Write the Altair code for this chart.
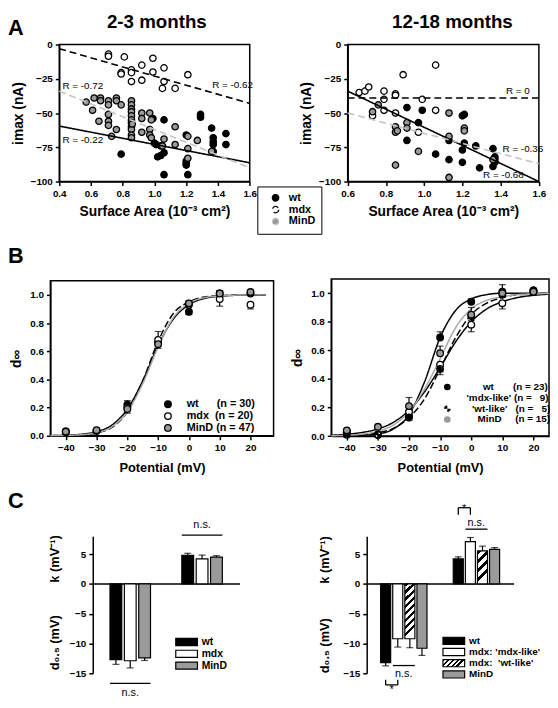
import math
import altair as alt
import pandas as pd

FONT = "Liberation Sans"
NB = "\u00a0"
ZW = "\u200b"

# ============================ DATA ============================
geno3 = ["wt", "mdx", "MinD"]
fill3 = ["black", "white", "#9a9a9a"]

# ---- Panel A left: 2-3 months, imax (nA) vs surface area ----
a1_wt_x = [0.79, 0.99, 1.06, 1.00, 1.01, 1.04, 1.04, 1.02, 1.06, 1.06, 1.21, 1.20, 1.20, 1.20, 1.20,
           1.29, 1.29, 1.36, 1.37, 1.37, 1.37, 1.37, 1.45, 1.45]
a1_wt_y = [-80, -54, -55, -72, -73, -74, -81, -82, -79, -95, -95, -85, -87, -88, -66,
           -51, -53, -61, -68, -71, -73, -78, -65, -73]
a1_mdx_x = [0.71, 0.71, 0.81, 0.79, 0.79, 0.855, 0.855, 0.855, 0.92, 0.92, 0.99, 0.99, 1.06, 1.06, 1.05, 1.13, 1.21]
a1_mdx_y = [-7, -8.5, -9, -20.5, -21.5, -18.5, -20.5, -27, -15, -26, -10, -20, -17, -27, -32, -32, -22]
a1_mind_x = [0.57, 0.62, 0.61, 0.66, 0.66, 0.65, 0.71, 0.71, 0.71, 0.71, 0.71, 0.76, 0.76, 0.79, 0.76, 0.73,
             0.855, 0.855, 0.855, 0.855, 0.855, 0.855, 0.855, 0.855, 0.855, 0.855, 0.855, 0.86,
             0.92, 0.92, 0.92, 0.97, 0.98, 0.97, 0.97, 0.98, 1.06, 1.05, 1.13, 1.13, 1.21, 1.21, 1.21, 1.27, 1.36]
a1_mind_y = [-42, -39, -48, -39, -41, -56, -41, -44, -51, -56, -59, -39, -41, -44, -62, -67,
             -41, -44, -47, -49, -52, -55, -57, -60, -62, -66, -68, -58,
             -50, -54, -64, -50, -55, -62, -66, -68, -69, -74, -60, -73, -67, -76, -83, -70, -78]
a1_fit_x = [0.4, 1.6]
a1_fit_wt = [-59.5, -86.3]
a1_fit_mdx = [-3, -43]
a1_fit_mind = [-34, -90]
a1_r_text = ["R = -0.72", "R = -0.62", "R = -0.22"]
a1_r_x = [0.42, 1.364, 0.42]
a1_r_y = [-30, -29.5, -69.5]

# ---- Panel A right: 12-18 months ----
a2_wt_x = [0.91, 0.99, 0.97, 0.91, 1.06, 1.13, 1.13, 1.20, 1.21, 1.20, 1.20, 1.21, 1.27, 1.29, 1.36, 1.37, 1.37, 1.37, 1.36]
a2_wt_y = [-46, -48, -57, -70, -80, -84, -70, -52, -51, -77, -86, -72, -74, -90, -76, -82, -84, -86, -89]
a2_mdx_x = [0.66, 0.69, 0.71, 0.79, 0.79, 0.79, 0.85, 0.85, 0.85, 0.73, 0.89, 0.99, 0.97, 1.06, 1.06]
a2_mdx_y = [-35, -34, -31, -34, -40, -48, -36, -37, -50, -52, -22, -40, -64, -15, -48]
a2_mind_x = [0.76, 0.73, 0.85, 0.85, 0.86, 0.91, 0.91, 0.97, 0.85, 1.13, 1.13, 1.13, 1.21, 1.21, 1.36]
a2_mind_y = [-44, -49, -60, -64, -63, -57, -61, -78, -88, -50, -67, -97, -61, -63, -84]
a2_fit_x = [0.6, 1.6]
a2_fit_wt = [-34, -100]
a2_fit_mdx = [-39, -39]
a2_fit_mind = [-50, -87]
a2_r_text = ["R = 0", "R = -0.36", "R = -0.68"]
a2_r_x = [1.428, 1.41, 1.308]
a2_r_y = [-34, -76, -95]

# ---- Panel B: steady-state activation d_inf vs potential ----
b_pts_v = [-40, -30, -20, -10, 0, 10, 20]
b_curve_v = [-45, -40, -35, -30, -25, -20, -15, -10, -5, 0, 5, 10, 15, 20, 25]

b1_keys = ["wt", "mdx", "MinD"]
b1_labels = ["wt" + NB * 6 + "(n = 30)", "mdx" + NB * 2 + "(n = 20)", "MinD" + NB + "(n = 47)"]
b1_wt_y = [0.03, 0.035, 0.22, 0.66, 0.88, 1.01, 1.01]
b1_wt_err = [0.005, 0.005, 0.03, 0.03, -0.02, 0.02, 0.01]
b1_mdx_y = [0.025, 0.035, 0.20, 0.68, 0.93, 0.97, 0.93]
b1_mdx_err = [0.005, 0.005, 0.02, 0.06, 0.02, -0.05, -0.03]
b1_mind_y = [0.03, 0.04, 0.19, 0.65, 0.94, 1.01, 1.02]
b1_mind_err = [0.005, 0.005, -0.03, -0.03, 0.02, 0.02, 0.01]
b1_curve_wt = [0.001, 0.004, 0.011, 0.029, 0.076, 0.19, 0.39, 0.64, 0.83, 0.93, 0.975, 0.99, 0.997, 0.999, 1.0]
b1_curve_mdx = [0.001, 0.002, 0.006, 0.02, 0.06, 0.17, 0.39, 0.67, 0.87, 0.95, 0.985, 0.995, 0.999, 1.0, 1.0]
b1_curve_mind = [0.001, 0.003, 0.0075, 0.022, 0.064, 0.17, 0.37, 0.63, 0.84, 0.94, 0.98, 0.993, 0.998, 1.0, 1.0]

b2_keys = ["wt", "mdx-like", "wt-like", "MinD"]
b2_labels = [ZW + NB * 6 + "wt" + NB * 7 + "(n = 23)",
             "'mdx-like' (n = " + NB * 2 + "9)",
             ZW + NB * 2 + "'wt-like'" + NB * 3 + "(n = " + NB * 2 + "5)",
             ZW + NB * 4 + "MinD" + NB * 5 + "(n = 15)"]
b2_wt_y = [0.01, 0.01, 0.14, 0.69, 0.94, 1.01, 1.02]
b2_wt_err = [0.005, 0.005, 0.02, 0.04, 0.02, 0.05, 0.01]
b2_mdxl_y = [0.03, 0.01, 0.17, 0.50, 0.78, 0.93, 1.01]
b2_mdxl_err = [-0.005, -0.005, -0.02, -0.05, -0.05, -0.04, -0.01]
b2_wtl_y = [0.02, 0.01, 0.13, 0.47, 0.84, 0.99, 1.02]
b2_wtl_err = [-0.005, -0.005, -0.02, -0.04, -0.03, -0.02, -0.01]
b2_mind_y = [0.04, 0.065, 0.21, 0.58, 0.85, 1.00, 1.01]
b2_mind_err = [0.005, 0.005, 0.06, 0.05, 0.05, 0.02, 0.01]
b2_curve_wt = [0.001, 0.002, 0.006, 0.015, 0.05, 0.15, 0.38, 0.69, 0.88, 0.96, 0.99, 1.0, 1.0, 1.0, 1.0]
b2_curve_mdxl = [0.006, 0.013, 0.026, 0.05, 0.097, 0.18, 0.31, 0.48, 0.66, 0.80, 0.89, 0.94, 0.97, 0.985, 0.993]
b2_curve_wtl = [0.002, 0.004, 0.0096, 0.023, 0.054, 0.13, 0.26, 0.47, 0.69, 0.85, 0.93, 0.97, 0.99, 0.995, 0.998]
b2_curve_mind = [0.0025, 0.006, 0.014, 0.034, 0.078, 0.17, 0.33, 0.54, 0.76, 0.89, 0.95, 0.975, 0.99, 0.995, 0.998]

# ---- Panel C: Boltzmann fit parameters (d0.5 and k) ----
c1_cats = ["pad0", "d_wt", "d_mdx", "d_MinD", "gap1", "gap2", "k_wt", "k_mdx", "k_MinD", "pad9"]
c1_bar_cat = ["d_wt", "d_mdx", "d_MinD", "k_wt", "k_mdx", "k_MinD"]
c1_bar_geno = ["wt", "mdx", "MinD", "wt", "mdx", "MinD"]
c1_val = [-12.7, -12.9, -12.4, 4.8, 4.2, 4.5]
c1_err = [0.8, 1.2, 0.45, 0.35, 0.65, 0.25]

c2_geno = ["wt", "mdx: 'mdx-like'", "mdx:" + NB + " 'wt-like'", "MinD"]
c2_cats = ["pad0", "d_wt", "d_mdxl", "d_wtl", "d_MinD", "gap1", "gap2", "k_wt", "k_mdxl", "k_wtl", "k_MinD", "pad11"]
c2_bar_cat = ["d_wt", "d_mdxl", "d_wtl", "d_MinD", "k_wt", "k_mdxl", "k_wtl", "k_MinD"]
c2_bar_geno = c2_geno + c2_geno
c2_val = [-13.2, -9.2, -9.2, -10.8, 4.2, 7.1, 5.55, 5.8]
c2_err = [0.55, 1.4, 1.5, 1.2, 0.35, 0.7, 0.8, 0.3]

# annotations (significance marks)
c1_line_a = ["k_wt", "d_wt"]
c1_line_b = ["k_MinD", "d_MinD"]
c1_line_y = [8.2, -16.7]
c1_txt = ["n.s.", "n.s."]
c1_txt_cat = ["k_mdx", "d_mdx"]
c1_txt_y = [9.9, -18.8]

c2_line_a = ["k_mdxl", "d_mdxl"]
c2_line_b = ["k_wtl", "d_wtl"]
c2_line_y = [9.2, -13.7]
c2_br_a = ["k_wt", "d_wt"]
c2_br_b = ["k_mdxl", "d_mdxl"]
c2_br_y = [12.8, -16.95]
c2_br_y2 = [11.6, -16.1]
c2_txt = ["*", "n.s.", "n.s.", "*"]
c2_txt_cat = ["k_wt", "k_mdxl", "d_mdxl", "d_wt"]
c2_txt_y = [12.6, 10.2, -15.2, -18.7]

titles = ["2-3 months", "12-18 months"]
letters = ["A", "B", "C"]
a_xtitle = "Surface Area (10⁻³ cm²)"
a_ytitle = "imax (nA)"
b_xtitle = "Potential (mV)"
b_ytitle = "d∞"
c_ytitles = ["k (mV⁻¹)", "d₀.₅ (mV)"]

# ============================ LAYOUT ============================
W, H = 550, 692
M = 8


def P(v):
    return v - M


def qscale(dom, rng):
    return alt.Scale(domain=dom, range=rng, nice=False, zero=False)


def qaxis(orient, offset, values, title, fmt=None, tp=6, tfs=13):
    kw = dict(orient=orient, offset=offset, values=values, title=title, titlePadding=tp, titleFontSize=tfs,
              labelFlush=False, labelOverlap=False, grid=False)
    if fmt:
        kw["format"] = fmt
    return alt.Axis(**kw)


def frame_layer(xdom, ydom, xe, ye):
    df = pd.DataFrame({"x": [xdom[0]], "x2": [xdom[1]], "y": [ydom[0]], "y2": [ydom[1]]})
    return alt.Chart(df).mark_rect(fillOpacity=0, stroke="black", strokeWidth=1.5).encode(
        x=xe("x"), x2=alt.X2("x2"), y=ye("y"), y2=alt.Y2("y2"))


def long_df(groups, xs_list, ys_list):
    rows = []
    for g, xs, ys in zip(groups, xs_list, ys_list):
        for a, b in zip(xs, ys):
            rows.append({"g": g, "x": a, "y": b})
    return pd.DataFrame(rows)


# ---------------- Panel A ----------------
def panel_a(pts, fits, rl, xdom, xr, xvals, legend):
    xs = qscale(xdom, xr)
    ys = qscale([-100, 0], [P(179), P(40)])
    xax = qaxis("bottom", P(179) - H, xvals, a_xtitle, ".1f", tp=6, tfs=14)
    yax = qaxis("left", -xr[0], [-100, -75, -50, -25, 0], a_ytitle, tp=5, tfs=14)
    xe = lambda f: alt.X(f, type="quantitative", scale=xs, axis=xax)
    ye = lambda f: alt.Y(f, type="quantitative", scale=ys, axis=yax)
    fr = frame_layer(xdom, [-100, 0], xe, ye)
    points = alt.Chart(pts).mark_point(filled=True, shape="circle", size=42, strokeWidth=1.3, opacity=1).encode(
        x=xe("x"), y=ye("y"),
        fill=alt.Fill("g:N", scale=alt.Scale(domain=geno3, range=fill3), legend=legend, title=None),
        stroke=alt.value("black"))
    lines = alt.Chart(fits).mark_line(strokeWidth=1.6).encode(
        x=xe("x"), y=ye("y"),
        stroke=alt.Stroke("g:N", scale=alt.Scale(domain=geno3, range=["black", "black", "#c4c4c4"]), legend=None),
        strokeDash=alt.StrokeDash("g:N", scale=alt.Scale(domain=geno3, range=[[1, 0], [7, 4], [7, 4]]), legend=None))
    rtext = alt.Chart(rl).mark_text(font=FONT, fontSize=10, align="left", baseline="middle", color="black").encode(
        x=xe("x"), y=ye("y"), text="t:N")
    return alt.layer(fr, points, lines, rtext)


a_legend = alt.Legend(orient="none", legendX=253, legendY=176, strokeColor="black", fillColor="white",
                      padding=6, symbolOffset=7, symbolType="circle", symbolSize=42,
                      symbolStrokeColor="black", symbolStrokeWidth=1.3, labelFontSize=11,
                      labelOffset=8, rowPadding=-2.2)

a_left = panel_a(
    long_df(geno3, [a1_wt_x, a1_mdx_x, a1_mind_x], [a1_wt_y, a1_mdx_y, a1_mind_y]),
    long_df(geno3, [a1_fit_x] * 3, [a1_fit_wt, a1_fit_mdx, a1_fit_mind]),
    pd.DataFrame({"t": a1_r_text, "x": a1_r_x, "y": a1_r_y}),
    [0.4, 1.6], [P(60), P(253.3)], [0.4, 0.6, 0.8, 1.0, 1.2, 1.4, 1.6], a_legend)

a_right = panel_a(
    long_df(geno3, [a2_wt_x, a2_mdx_x, a2_mind_x], [a2_wt_y, a2_mdx_y, a2_mind_y]),
    long_df(geno3, [a2_fit_x] * 3, [a2_fit_wt, a2_fit_mdx, a2_fit_mind]),
    pd.DataFrame({"t": a2_r_text, "x": a2_r_x, "y": a2_r_y}),
    [0.6, 1.6], [P(352.7), P(546.7)], [0.6, 0.8, 1.0, 1.2, 1.4, 1.6], None)


# ---------------- Panel B ----------------
def _pt(t):
    return "%.3f,%.3f" % (math.cos(t), math.sin(t))


def quadrant_symbol():
    # outline circle (clockwise) with two counter-clockwise wedges left unfilled
    n = 32
    circle = "M" + "L".join(_pt(2 * math.pi * i / n) for i in range(n)) + "Z"
    tr = "M0,0L" + "L".join(_pt(-math.pi / 2 * i / 8) for i in range(9)) + "Z"
    bl = "M0,0L" + "L".join(_pt(math.pi - math.pi / 2 * i / 8) for i in range(9)) + "Z"
    return circle + tr + bl


WTLIKE_PATH = quadrant_symbol()


def b_points(labels, ys, errs):
    rows = []
    for lab, yy, ee in zip(labels, ys, errs):
        for v, a, e in zip(b_pts_v, yy, ee):
            rows.append({"g": lab, "x": v, "y": a, "e": a + e})
    return pd.DataFrame(rows)


def panel_b(keys, labels, ys, errs, curves, xdom, xr, yr, fills, strokes, dashes, shapes, legend):
    xs = qscale(xdom, xr)
    ys_ = qscale([0, 1.1], yr)
    xax = qaxis("bottom", yr[0] - H, [-40, -30, -20, -10, 0, 10, 20], b_xtitle, "d", tp=9)
    yax = qaxis("left", -xr[0], [0, 0.2, 0.4, 0.6, 0.8, 1.0], b_ytitle, ".1f", tp=6, tfs=14)
    xe = lambda f: alt.X(f, type="quantitative", scale=xs, axis=xax)
    ye = lambda f: alt.Y(f, type="quantitative", scale=ys_, axis=yax)
    fr = frame_layer(xdom, [0, 1.1], xe, ye)
    pdf = b_points(labels, ys, errs)
    enc = dict(x=xe("x"), y=ye("y"),
               fill=alt.Fill("g:N", scale=alt.Scale(domain=labels, range=fills), legend=legend, title=None),
               stroke=alt.value("black"))
    if shapes is not None:
        enc["shape"] = alt.Shape("g:N", scale=alt.Scale(domain=labels, range=shapes), legend=legend, title=None)
    points = alt.Chart(pdf).mark_point(filled=True, shape="circle", size=45, strokeWidth=1.3, opacity=1).encode(**enc)
    cdf = long_df(keys, [b_curve_v] * len(keys), curves)
    lines = alt.Chart(cdf).mark_line(strokeWidth=1.5, interpolate="monotone").encode(
        x=xe("x"), y=ye("y"),
        stroke=alt.Stroke("g:N", scale=alt.Scale(domain=keys, range=strokes), legend=None),
        strokeDash=alt.StrokeDash("g:N", scale=alt.Scale(domain=keys, range=dashes), legend=None))
    rules = alt.Chart(pdf).mark_rule(strokeWidth=1.2, color="black").encode(x=xe("x"), y=ye("y"), y2=alt.Y2("e"))
    caps = alt.Chart(pdf).mark_tick(orient="horizontal", size=7, thickness=1.2, color="black").encode(
        x=xe("x"), y=ye("e"))
    return alt.layer(fr, lines, rules, caps, points)


b1_legend = alt.Legend(orient="none", legendX=156.8, legendY=391.5, padding=0, symbolType="circle",
                       symbolSize=45, symbolStrokeColor="black", symbolStrokeWidth=1.3,
                       labelFontSize=11, labelOffset=13.5, rowPadding=-2.5)
b2_legend = alt.Legend(orient="none", legendX=440.8, legendY=374.5, padding=0,
                       symbolSize=45, symbolStrokeColor="black", symbolStrokeWidth=1.3,
                       labelFontSize=10, labelOffset=14.5, rowPadding=-3)

b_left = panel_b(b1_keys, b1_labels, [b1_wt_y, b1_mdx_y, b1_mind_y], [b1_wt_err, b1_mdx_err, b1_mind_err],
                 [b1_curve_wt, b1_curve_mdx, b1_curve_mind],
                 [-45, 27.5], [P(51), P(277.5)], [P(437), P(279.7)],
                 fill3, ["black", "black", "#a8a8a8"], [[1, 0], [7, 3], [1, 0]], None, b1_legend)

b_right = panel_b(b2_keys, b2_labels, [b2_wt_y, b2_mdxl_y, b2_wtl_y, b2_mind_y],
                  [b2_wt_err, b2_mdxl_err, b2_wtl_err, b2_mind_err],
                  [b2_curve_wt, b2_curve_mdxl, b2_curve_wtl, b2_curve_mind],
                  [-45, 25], [P(336), P(557)], [P(437.3), P(277.8)],
                  ["black", "white", "black", "#9a9a9a"], ["black", "black", "black", "#a8a8a8"],
                  [[1, 0], [1, 0], [7, 3], [1, 0]], ["circle", "circle", WTLIKE_PATH, "circle"], b2_legend)


# ---------------- Panel C ----------------
def hatch_stops(n):
    stops = []
    for i in range(n):
        a, b, c = i / n, (i + 0.45) / n, (i + 1) / n
        stops += [{"offset": a, "color": "black"}, {"offset": b, "color": "black"},
                  {"offset": b, "color": "white"}, {"offset": c, "color": "white"}]
    return stops


def hatch(n, ax):
    return {"gradient": "linear", "x1": 0, "y1": 0, "x2": ax, "y2": 1, "stops": hatch_stops(n)}


def hatch_expr(n, x2, y2):
    s = ",".join("{offset:%.4f,color:'%s'}" % (d["offset"], d["color"]) for d in hatch_stops(n))
    return alt.ExprRef(expr="{gradient:'linear',x1:0,y1:0,x2:%g,y2:%g,stops:[%s]}" % (x2, y2, s))


RECT_PATH = "M-2.75,-0.9L2.75,-0.9L2.75,0.9L-2.75,0.9Z"


def panel_c(cats, bar_cat, bar_geno, vals, errs, genos, fills, xr, pad_in, pad_out, bw,
            legend, lines_a, lines_b, lines_y, br=None, txt=None, hatch_geno=None):
    xs = alt.Scale(type="band", domain=cats, range=xr, paddingInner=pad_in, paddingOuter=pad_out)
    ys = qscale([-15, 8], [P(678), P(539)])
    xax = alt.Axis(orient="bottom", offset=P(587) - H, labels=False, ticks=False, title=None, domain=True, grid=False)
    yax = qaxis("left", -xr[0], [-15, -10, -5, 0, 5], None)
    xe = lambda f: alt.X(f, type="nominal", scale=xs, axis=xax)
    ye = lambda f: alt.Y(f, type="quantitative", scale=ys, axis=yax)
    df = pd.DataFrame({"c": bar_cat, "g": bar_geno, "v": vals, "err": errs})
    df["e"] = [v - e if v < 0 else v + e for v, e in zip(df["v"], df["err"])]
    df["z"] = 0
    rules = alt.Chart(df).mark_rule(strokeWidth=1.2, color="black").encode(x=xe("c"), y=ye("v"), y2=alt.Y2("e"))
    caps = alt.Chart(df).mark_tick(orient="horizontal", size=7, thickness=1.2, color="black").encode(
        x=xe("c"), y=ye("e"))
    plain = df[df["g"] != hatch_geno] if hatch_geno else df
    bars = alt.Chart(plain).mark_bar(stroke="black", strokeWidth=1.2).encode(
        x=xe("c"), y=ye("v"), y2=alt.Y2("z"),
        fill=alt.Fill("g:N", scale=alt.Scale(domain=genos, range=fills), legend=legend, title=None))
    layers = [rules, caps, bars]
    if hatch_geno:
        hd = df[(df["g"] == hatch_geno) & (df["v"] < 0)]
        hk = df[(df["g"] == hatch_geno) & (df["v"] > 0)]
        layers.append(alt.Chart(hd).mark_bar(stroke="black", strokeWidth=1.2).encode(
            x=xe("c"), y=ye("v"), y2=alt.Y2("z"), fill=alt.value(hatch(8, bw / 56.0))))
        layers.append(alt.Chart(hk).mark_bar(stroke="black", strokeWidth=1.2).encode(
            x=xe("c"), y=ye("v"), y2=alt.Y2("z"), fill=alt.value(hatch(4, bw / 33.0))))
    ldf = pd.DataFrame({"a": lines_a, "b": lines_b, "y": lines_y})
    layers.append(alt.Chart(ldf).mark_rule(strokeWidth=1.3, color="black", xOffset=-bw / 2, x2Offset=bw / 2).encode(
        x=xe("a"), x2=alt.X2("b"), y=ye("y")))
    if br is not None:
        bdf = pd.DataFrame({"a": br[0], "b": br[1], "y": br[2], "y2": br[3]})
        layers.append(alt.Chart(bdf).mark_rule(strokeWidth=1.3, color="black").encode(
            x=xe("a"), x2=alt.X2("b"), y=ye("y")))
        layers.append(alt.Chart(bdf).mark_rule(strokeWidth=1.3, color="black").encode(
            x=xe("a"), y=ye("y"), y2=alt.Y2("y2")))
        layers.append(alt.Chart(bdf).mark_rule(strokeWidth=1.3, color="black").encode(
            x=xe("b"), y=ye("y"), y2=alt.Y2("y2")))
    tdf = pd.DataFrame({"t": txt[0], "c": txt[1], "y": txt[2], "dx": txt[3], "bl": txt[4]})
    for (dx, bl), sub in tdf.groupby(["dx", "bl"]):
        layers.append(alt.Chart(sub).mark_text(font=FONT, fontSize=11, color="black", dx=float(dx),
                                               baseline=bl).encode(x=xe("c"), y=ye("y"), text="t:N"))
    return alt.layer(*layers)


c1_legend = alt.Legend(orient="none", legendX=176, legendY=633, padding=0, symbolType=RECT_PATH,
                       symbolSize=64, symbolStrokeColor="black", symbolStrokeWidth=1.2,
                       labelFontSize=10.5, labelOffset=10, rowPadding=-2)
c2_legend = alt.Legend(orient="none", legendX=447.4, legendY=632, padding=0, symbolType=RECT_PATH,
                       symbolSize=64, symbolStrokeColor="black", symbolStrokeWidth=1.2,
                       labelFontSize=10, labelOffset=10.5, rowPadding=-0.6)

c_left = panel_c(c1_cats, c1_bar_cat, c1_bar_geno, c1_val, c1_err, geno3, fill3,
                 [P(94), P(243)], 0.18, 0.2, 12, c1_legend, c1_line_a, c1_line_b, c1_line_y,
                 txt=(c1_txt, c1_txt_cat, c1_txt_y, [0, 0], ["middle", "alphabetic"]))

c_right = panel_c(c2_cats, c2_bar_cat, c2_bar_geno, c2_val, c2_err, c2_geno,
                  ["black", "white", hatch_expr(5, 1, 0.33), "#9a9a9a"],
                  [P(372), P(521)], 0.17, 0.15, 10, c2_legend, c2_line_a, c2_line_b, c2_line_y,
                  br=(c2_br_a, c2_br_b, c2_br_y, c2_br_y2),
                  txt=(c2_txt, c2_txt_cat, c2_txt_y, [6, 6, 6, 6], ["middle", "middle", "middle", "bottom"]),
                  hatch_geno=c2_geno[2])


# ---------------- free text (titles, panel letters, C axis titles) ----------------
def text_layer(t, x, y, size, angle=0, align="center", baseline="middle"):
    return alt.Chart(pd.DataFrame({"t": [t]})).mark_text(
        font=FONT, fontSize=size, fontWeight="bold", angle=angle, align=align, baseline=baseline,
        color="black").encode(text="t:N", x=alt.value(x), y=alt.value(y))


texts = [
    text_layer(titles[0], P(159), 0, 19, baseline="top"),
    text_layer(titles[1], P(459), 0, 19, baseline="top"),
    text_layer(letters[0], 0, P(13), 22, align="left", baseline="top"),
    text_layer(letters[1], 0, P(245), 22, align="left", baseline="top"),
    text_layer(letters[2], 0, P(493), 22, align="left", baseline="top"),
    text_layer(c_ytitles[0], P(56), P(562), 13, angle=270),
    text_layer(c_ytitles[1], P(56), P(647), 13, angle=270),
    text_layer(c_ytitles[0], P(330), P(563), 13, angle=270),
    text_layer(c_ytitles[1], P(330), P(650), 13, angle=270),
]

chart = alt.layer(a_left, a_right, b_left, b_right, c_left, c_right, *texts).resolve_scale(
    x="independent", y="independent", fill="independent", stroke="independent",
    strokeDash="independent", shape="independent"
).resolve_axis(x="independent", y="independent").resolve_legend(
    fill="independent", shape="independent", stroke="independent", strokeDash="independent"
).properties(
    width=W, height=H, padding=0, autosize=alt.AutoSizeParams(type="none")
).configure_view(stroke=None).configure_axis(
    labelFont=FONT, labelFontSize=10, labelFontWeight="bold", labelColor="black",
    titleFont=FONT, titleFontSize=13, titleFontWeight="bold", titleColor="black",
    domainColor="black", domainWidth=1.5, tickColor="black", tickWidth=1.5, tickSize=4,
    labelPadding=3, grid=False
).configure_legend(labelFont=FONT, labelFontWeight="bold", labelColor="black")

chart.save("out.html", embed_options={"renderer": "svg", "actions": False})
